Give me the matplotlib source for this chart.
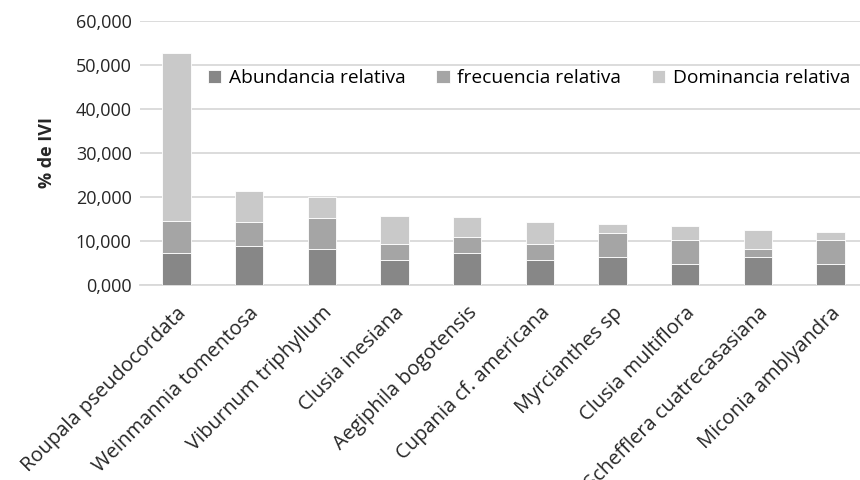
import matplotlib
matplotlib.use("Agg")
import matplotlib.pyplot as plt
from matplotlib.ticker import FuncFormatter

plt.rcParams['font.family'] = ['Open Sans', 'DejaVu Sans']

especies = ['Roupala pseudocordata', 'Weinmannia tomentosa', 'Viburnum triphyllum',
            'Clusia inesiana', 'Aegiphila bogotensis', 'Cupania cf. americana',
            'Myrcianthes sp', 'Clusia multiflora', 'Schefflera cuatrecasasiana',
            'Miconia amblyandra']
# % de IVI por componente
abundancia = [7.35, 8.86, 8.25, 5.76, 7.35, 5.76, 6.44, 4.77, 6.44, 4.77]
frecuencia = [7.15, 5.50, 6.95, 3.64, 3.65, 3.56, 5.45, 5.45, 1.80, 5.45]
dominancia = [38.30, 7.00, 4.80, 6.35, 4.40, 4.93, 2.05, 3.10, 4.25, 1.80]
yticks = [0, 10, 20, 30, 40, 50, 60]

fig = plt.figure(figsize=(8.6, 4.8), dpi=100)
ax = fig.add_axes([140 / 860, 1 - 285 / 480, 727 / 860, 264 / 480])

x = list(range(len(especies)))
w = 0.39
base2 = [a + f for a, f in zip(abundancia, frecuencia)]
ax.bar(x, abundancia, w, color='#878787', edgecolor='white', linewidth=0.6,
       label='Abundancia relativa', zorder=3)
ax.bar(x, frecuencia, w, bottom=abundancia, color='#a5a5a5', edgecolor='white',
       linewidth=0.6, label='frecuencia relativa', zorder=3)
ax.bar(x, dominancia, w, bottom=base2, color='#c9c9c9', edgecolor='white',
       linewidth=0.6, label='Dominancia relativa', zorder=3)

ax.set_xlim(-0.5, len(especies) - 0.5)
ax.set_ylim(0, 60)
ax.set_yticks(yticks)
# formato tipo Excel: 10,000 = 10 con tres decimales y coma decimal
ax.yaxis.set_major_formatter(FuncFormatter(lambda v, p: f'{v:.3f}'.replace('.', ',')))
ax.grid(axis='y', color='#d9d9d9', linewidth=1.3, zorder=0)
for s in ['top', 'right', 'left']:
    ax.spines[s].set_visible(False)
ax.spines['bottom'].set_color('#d9d9d9')
ax.spines['bottom'].set_linewidth(1.3)
ax.tick_params(axis='y', length=0, labelsize=13, colors='#262626', pad=6)
ax.tick_params(axis='x', length=0, labelsize=14.5, colors='#262626', pad=13)
ax.set_xticks(x)
ax.set_xticklabels(especies, rotation=45, ha='right', rotation_mode='anchor')
ax.set_ylabel('% de IVI', fontsize=13, fontweight='bold', color='#262626', labelpad=14)

ax.legend(loc='center', bbox_to_anchor=(529 / 860, 1 - 78 / 480),
          bbox_transform=fig.transFigure, ncol=3, frameon=False, fontsize=13.8,
          handlelength=0.7, handleheight=0.7, handletextpad=0.4, columnspacing=1.6)

fig.savefig('out.png', dpi=100)
